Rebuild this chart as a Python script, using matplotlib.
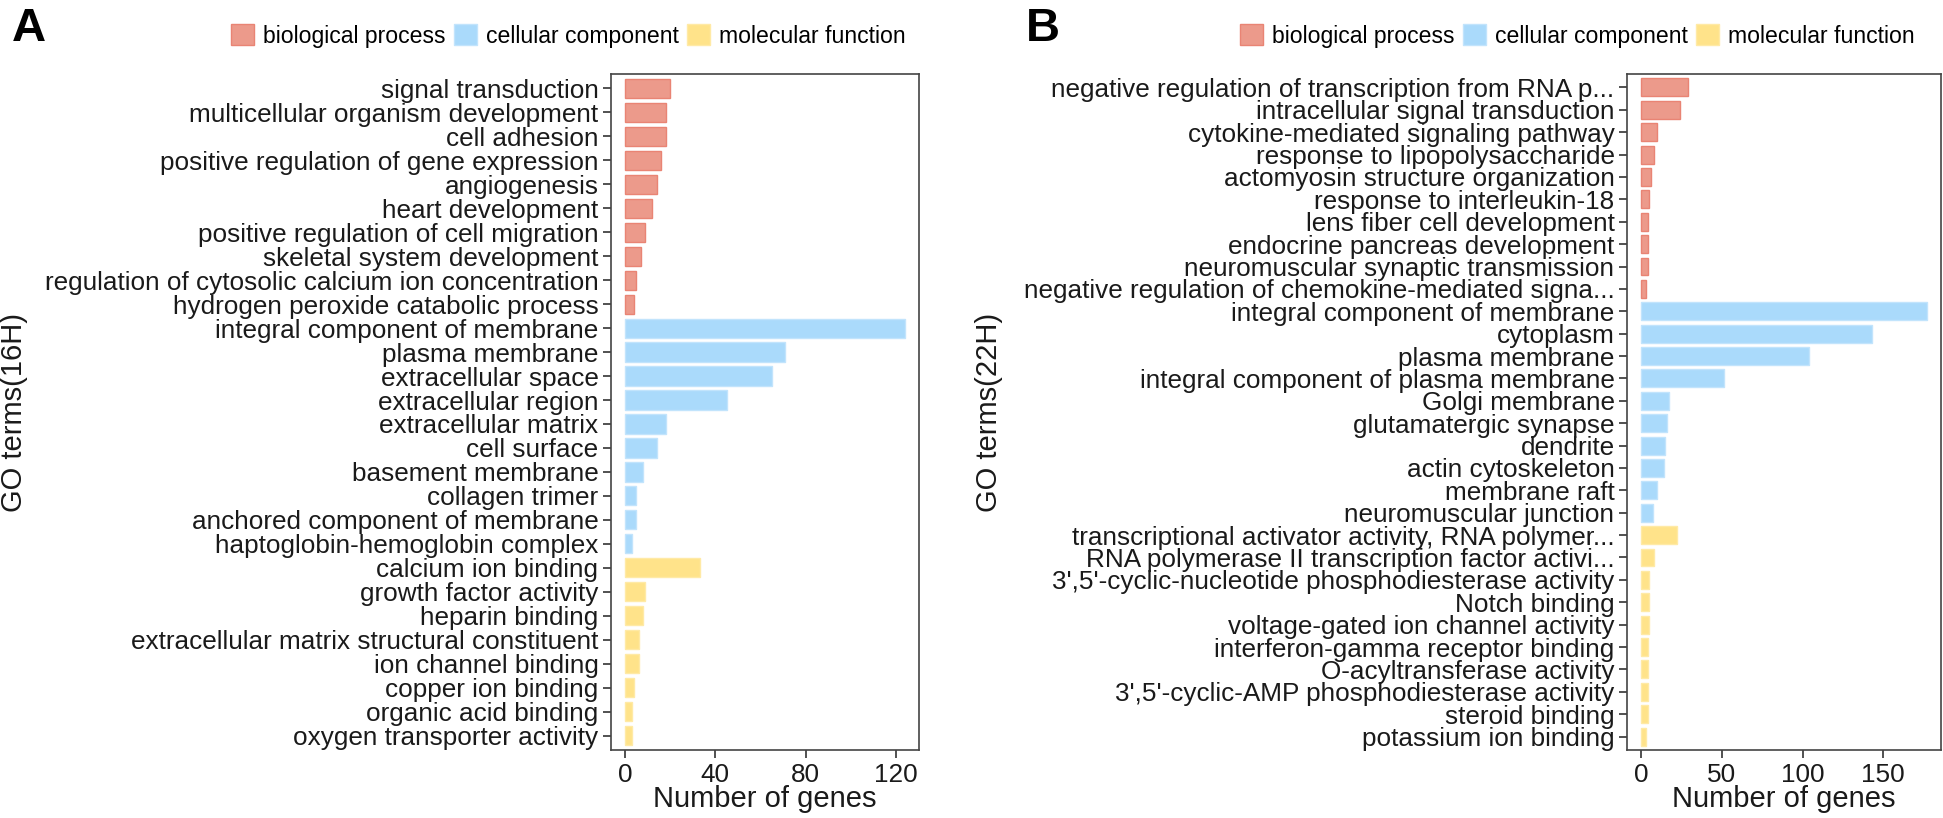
import matplotlib
matplotlib.use("Agg")
import numpy as np
import matplotlib.pyplot as plt
from matplotlib import font_manager
from matplotlib.patches import Patch

# ---- data ----
terms_16h = [
    "signal transduction", "multicellular organism development", "cell adhesion",
    "positive regulation of gene expression", "angiogenesis", "heart development",
    "positive regulation of cell migration", "skeletal system development",
    "regulation of cytosolic calcium ion concentration", "hydrogen peroxide catabolic process",
    "integral component of membrane", "plasma membrane", "extracellular space",
    "extracellular region", "extracellular matrix", "cell surface", "basement membrane",
    "collagen trimer", "anchored component of membrane", "haptoglobin-hemoglobin complex",
    "calcium ion binding", "growth factor activity", "heparin binding",
    "extracellular matrix structural constituent", "ion channel binding",
    "copper ion binding", "organic acid binding", "oxygen transporter activity",
]
counts_16h = [20, 18, 18, 16, 14, 12, 9, 7, 5, 4,
              124, 71, 65, 45, 18, 14, 8, 5, 5, 3,
              33, 9, 8, 6, 6, 4, 3, 3]
groups_16h = ["bp"] * 10 + ["cc"] * 10 + ["mf"] * 8

terms_22h = [
    "negative regulation of transcription from RNA p...", "intracellular signal transduction",
    "cytokine-mediated signaling pathway", "response to lipopolysaccharide",
    "actomyosin structure organization", "response to interleukin-18",
    "lens fiber cell development", "endocrine pancreas development",
    "neuromuscular synaptic transmission", "negative regulation of chemokine-mediated signa...",
    "integral component of membrane", "cytoplasm", "plasma membrane",
    "integral component of plasma membrane", "Golgi membrane", "glutamatergic synapse",
    "dendrite", "actin cytoskeleton", "membrane raft", "neuromuscular junction",
    "transcriptional activator activity, RNA polymer...",
    "RNA polymerase II transcription factor activi...",
    "3',5'-cyclic-nucleotide phosphodiesterase activity", "Notch binding",
    "voltage-gated ion channel activity", "interferon-gamma receptor binding",
    "O-acyltransferase activity", "3',5'-cyclic-AMP phosphodiesterase activity",
    "steroid binding", "potassium ion binding",
]
counts_22h = [29, 24, 10, 8, 6, 5, 4, 4, 4, 3,
              177, 143, 104, 51, 17, 16, 15, 14, 10, 7,
              22, 8, 5, 5, 5, 4, 4, 4, 4, 3]
groups_22h = ["bp"] * 10 + ["cc"] * 10 + ["mf"] * 10

group_names = {"bp": "biological process", "cc": "cellular component", "mf": "molecular function"}
xticks_16h = [0, 40, 80, 120]
xticks_22h = [0, 50, 100, 150]

FACE = {"bp": "#EC9A8B", "cc": "#AADAFB", "mf": "#FFE38A"}
EDGE = {"bp": "#E98474", "cc": "#C2E4FC", "mf": "#FFEAA6"}

names = {f.name for f in font_manager.fontManager.ttflist}
NARROW = "Liberation Sans Narrow" if "Liberation Sans Narrow" in names else "Liberation Sans"
LEG_SIZE = 20 if NARROW == "Liberation Sans Narrow" else 16.6
plt.rcParams["font.family"] = ["Liberation Sans", "DejaVu Sans"]

W, H = 1943, 818
fig = plt.figure(figsize=(W / 100, H / 100), dpi=100)


def panel(rect, terms, counts, groups, xticks, ytitle, ytitle_x, letter, letter_x, legend_x):
    ax = fig.add_axes(rect)
    y = np.arange(len(terms))
    ax.barh(y, counts, height=0.8,
            color=[FACE[g] for g in groups],
            edgecolor=[EDGE[g] for g in groups], linewidth=1)
    top = max(counts)
    ax.set_xlim(-0.05 * top, 1.05 * top)
    ax.set_ylim(len(terms) - 0.4, -0.6)
    ax.set_yticks(y, terms)
    ax.set_xticks(xticks)
    ax.tick_params(labelsize=18.8, length=6, width=1.2, color="#333333",
                   labelcolor="#1a1a1a", pad=3)
    for s in ax.spines.values():
        s.set_color("#444444")
        s.set_linewidth(1.2)
    cx = rect[0] + rect[2] / 2
    fig.text(cx, 19 / H, "Number of genes", fontsize=21, color="#1a1a1a",
             ha="center", va="center")
    fig.text(ytitle_x / W, 1 - 412 / H, ytitle, fontsize=21, color="#1a1a1a",
             rotation=90, ha="center", va="center")
    fig.text(letter_x / W, 1 - 29 / H, letter, fontsize=34, fontweight="bold",
             family=NARROW, ha="left", va="center")
    handles = [Patch(facecolor=FACE[g], edgecolor=EDGE[g]) for g in ["bp", "cc", "mf"]]
    fig.legend(handles, [group_names[g] for g in ["bp", "cc", "mf"]],
               loc="center left", bbox_to_anchor=(legend_x / W, 1 - 36 / H),
               ncol=3, frameon=False, borderpad=0, borderaxespad=0,
               handlelength=1.0, handleheight=1.0, handletextpad=0.4,
               columnspacing=0.35, prop={"family": NARROW, "size": LEG_SIZE})
    return ax


ax_a = panel([611 / W, 68 / H, 308 / W, 676 / H], terms_16h, counts_16h, groups_16h,
             xticks_16h, "GO terms(16H)", 14, "A", 12, 231)
ax_b = panel([1627 / W, 68 / H, 314 / W, 676 / H], terms_22h, counts_22h, groups_22h,
             xticks_22h, "GO terms(22H)", 989, "B", 1026, 1240)

fig.savefig("out.png", dpi=100)
